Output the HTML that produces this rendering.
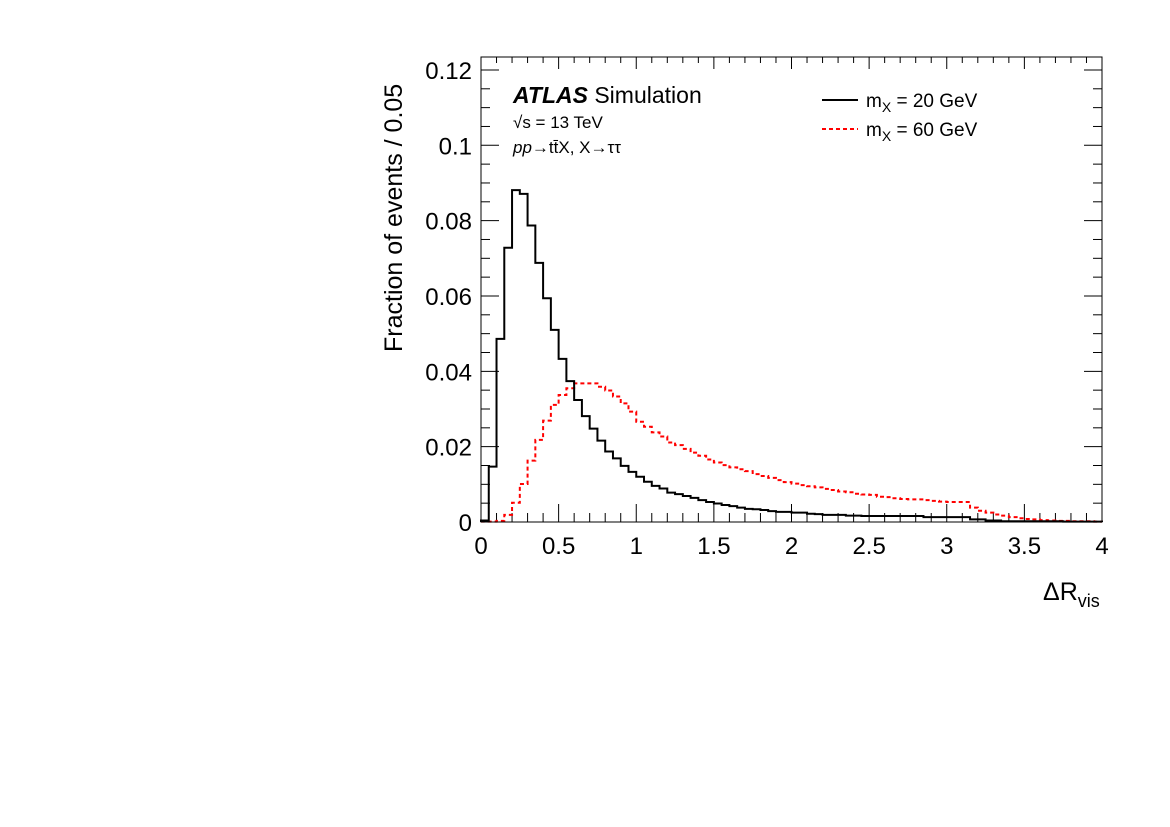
<!DOCTYPE html>
<html><head><meta charset="utf-8"><style>
html,body{margin:0;padding:0;background:#fff;}
svg{display:block;font-family:"Liberation Sans",sans-serif;}
</style></head><body>
<svg id="chart" width="1170" height="827" viewBox="0 0 1170 827">
<rect x="0" y="0" width="1170" height="827" fill="#fff"/>
<g id="ticks"></g>
<g id="series"></g>
<rect x="481" y="57" width="621" height="465" fill="none" stroke="#000" stroke-width="1"/>
<g id="labels" font-size="24"></g>
<text x="0" y="0" transform="translate(402,352) rotate(-90)" font-size="25">Fraction of events / 0.05</text>
<text x="1043" y="600" font-size="25">ΔR<tspan font-size="18" dy="7">vis</tspan></text>
<text x="513" y="103" font-size="23"><tspan font-weight="bold" font-style="italic">ATLAS</tspan> Simulation</text>
<text x="513" y="128" font-size="17">√s = 13 TeV</text>
<text x="513" y="153" font-size="17"><tspan font-style="italic">pp</tspan>→tt̄X, X→ττ</text>
<g>
<line x1="822" y1="100" x2="858" y2="100" stroke="#000" stroke-width="2"/>
<text x="866" y="107" font-size="19">m<tspan font-size="14" dy="5">X</tspan><tspan dy="-5"> = 20 GeV</tspan></text>
<line x1="822" y1="129" x2="858" y2="129" stroke="#f00" stroke-width="2" stroke-dasharray="4,3"/>
<text x="866" y="136" font-size="19">m<tspan font-size="14" dy="5">X</tspan><tspan dy="-5"> = 60 GeV</tspan></text>
</g>
</svg>
<script>
const binWidth = 0.05;
const xTickLabels = ["0","0.5","1","1.5","2","2.5","3","3.5","4"];
const yTickLabels = ["0","0.02","0.04","0.06","0.08","0.1","0.12"];
const mx20 = [0.0004,0.0147,0.0486,0.0728,0.0881,0.0871,0.0787,0.0688,0.0594,0.051,
0.0433,0.0374,0.0324,0.0281,0.0248,0.0216,0.0187,0.0169,0.0149,0.0133,
0.012,0.0107,0.0096,0.0089,0.0078,0.0074,0.0069,0.0064,0.0058,0.0053,
0.0049,0.0045,0.0042,0.0038,0.0035,0.0034,0.0032,0.0029,0.0027,0.0027,
0.0025,0.0025,0.0022,0.0021,0.0019,0.0019,0.0019,0.0017,0.0017,0.0016,
0.0016,0.0016,0.0016,0.0016,0.0016,0.0016,0.0016,0.0013,0.0013,0.0013,
0.0013,0.0013,0.0013,0.0007,0.0007,0.0004,0.0004,0.0002,0.0002,0.0002,
0.0002,0.0002,0.0002,0.0002,0.0002,0.0001,0.0001,0.0001,0.0001,0.0001];
const mx60 = [0.0001,0.0001,0.0003,0.0019,0.0051,0.0101,0.0163,0.0218,0.0269,0.0311,
0.0337,0.0355,0.0368,0.0368,0.0368,0.0359,0.0349,0.0333,0.0315,0.0293,
0.0266,0.0253,0.0238,0.0227,0.0211,0.0204,0.0194,0.0184,0.0176,0.0166,
0.0158,0.0151,0.0145,0.014,0.0135,0.0127,0.0122,0.0117,0.0111,0.0106,
0.0102,0.0098,0.0095,0.0092,0.0088,0.0085,0.0081,0.0079,0.0075,0.0073,
0.0072,0.0067,0.0066,0.0063,0.0061,0.006,0.006,0.0058,0.0056,0.0054,
0.0053,0.0053,0.0053,0.0038,0.003,0.0025,0.002,0.0017,0.0013,0.001,
0.0008,0.0007,0.0005,0.0004,0.0003,0.0003,0.0002,0.0002,0.0002,0.0001];

const X0=481,X1=1102,Y0=522,Y1=57;
const xMin=0,xMax=4,yMin=0,yMax=0.12344;
function sx(v){return X0+(v-xMin)/(xMax-xMin)*(X1-X0);}
function sy(v){return Y0-(v-yMin)/(yMax-yMin)*(Y0-Y1);}
const NS="http://www.w3.org/2000/svg";
function mk(tag,attrs,parent){const e=document.createElementNS(NS,tag);for(const k in attrs)e.setAttribute(k,attrs[k]);parent.appendChild(e);return e;}

const ticks=document.getElementById('ticks');
const labels=document.getElementById('labels');
// x ticks
for(let i=0;i<=40;i++){
  const v=i*0.1; const x=sx(v); const major=(i%5===0);
  const L=major?18:9;
  const t1=mk('line',{x1:x,y1:Y0,x2:x,y2:Y0-L,stroke:'#000','stroke-width':1},ticks);
  
  
  const t2=mk('line',{x1:x,y1:Y1,x2:x,y2:Y1+(major?12:6),stroke:'#000','stroke-width':1},ticks);
  
  
}
xTickLabels.forEach((s,i)=>{
  const t=mk('text',{x:sx(parseFloat(s)),y:554,'text-anchor':'middle'},labels);
  t.textContent=s;
  
  
});
// y ticks
for(let i=0;i<=24;i++){
  const v=i*0.005; const y=sy(v); const major=(i%4===0);
  const L=major?18:9;
  const t1=mk('line',{x1:X0,y1:y,x2:X0+L,y2:y,stroke:'#000','stroke-width':1},ticks);
  
  
  const t2=mk('line',{x1:X1,y1:y,x2:X1-L,y2:y,stroke:'#000','stroke-width':1},ticks);
  
  
}
yTickLabels.forEach((s)=>{
  const t=mk('text',{x:472,y:sy(parseFloat(s))+9,'text-anchor':'end'},labels);
  t.textContent=s;
  
  
});
function stepPath(vals){
  let d='M'+sx(0)+','+sy(0);
  vals.forEach((v,i)=>{
    const a=sx(i*binWidth),b=sx((i+1)*binWidth);
    d+=' L'+a+','+sy(v)+' L'+b+','+sy(v);
  });
  d+=' L'+sx(vals.length*binWidth)+','+sy(0);
  return d;
}
const series=document.getElementById('series');
const p60=mk('path',{d:stepPath(mx60),fill:'none',stroke:'#f00','stroke-width':2,'stroke-dasharray':'4,3'},series);


const p20=mk('path',{d:stepPath(mx20),fill:'none',stroke:'#000','stroke-width':2},series);


</script>
</body></html>
